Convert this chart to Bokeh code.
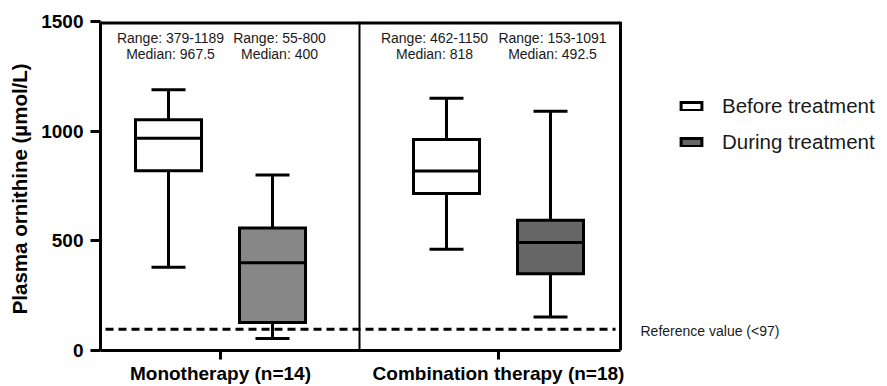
from bokeh.plotting import figure
from bokeh.models import ColumnDataSource, FixedTicker, Span, Label, Legend, LegendItem
from bokeh.core.properties import value
from bokeh.embed import file_html
from bokeh.resources import INLINE

# ---- data ----
groups = ["Monotherapy (n=14)", "Combination therapy (n=18)"]
phases = ["Before treatment", "During treatment"]
box_group = [0, 0, 1, 1]
box_phase = [0, 1, 0, 1]
mins = [379, 55, 462, 153]
q1s = [820, 128, 716, 350]
medians = [967.5, 400, 818, 492.5]
q3s = [1052, 558, 962, 594]
maxs = [1189, 800, 1150, 1091]
reference_value = 97
y_ticks = [0, 500, 1000, 1500]

# ---- layout / style ----
group_centers = [1.2, 3.98]
offset = 0.52
box_w = 0.66
cap_w = 0.34
text_shift = [0.02, 0.07, -0.12, 0.02]   # annotation text offsets from box centers
legend_index = [0, 3]                    # which box gives each legend key its look
panel_right = 5.2                        # right edge of the boxed plot area (x units)
fills = ["white", "#878787", "white", "#666666"]
FONT = "Liberation Sans"
Y_TOP = y_ticks[-1]

xs = [group_centers[g] + (offset if ph else -offset) for g, ph in zip(box_group, box_phase)]

def fmt(v):
    return f"{v:g}"

src = ColumnDataSource(dict(
    x=xs, lo=mins, q1=q1s, med=medians, q3=q3s, hi=maxs, fill=fills,
    x0=[x - box_w / 2 for x in xs], x1=[x + box_w / 2 for x in xs],
    c0=[x - cap_w / 2 for x in xs], c1=[x + cap_w / 2 for x in xs],
    tx=[x + s for x, s in zip(xs, text_shift)],
    rng=[f"Range: {fmt(a)}-{fmt(b)}" for a, b in zip(mins, maxs)],
    mdt=[f"Median: {fmt(m)}" for m in medians],
))

p = figure(width=887, height=386, x_range=(0, 7.87), y_range=(0, Y_TOP),
           output_backend="svg", toolbar_location=None,
           min_border_left=100, min_border_right=0, min_border_top=21, min_border_bottom=36)
p.grid.visible = False
p.background_fill_color = "white"
p.border_fill_color = "white"
p.outline_line_color = None

for ax in (p.xaxis[0], p.yaxis[0]):
    ax.axis_line_width = 3
    ax.axis_line_color = "black"
    ax.major_tick_line_width = 3
    ax.major_tick_in = 0
    ax.minor_tick_out = 0
    ax.minor_tick_in = 0
    ax.major_label_text_font = FONT
    ax.major_label_text_font_style = "bold"
    ax.major_label_text_color = "black"

p.yaxis.ticker = FixedTicker(ticks=y_ticks)
p.yaxis.major_tick_out = 10
p.yaxis.major_label_text_font_size = "19px"
p.yaxis.major_label_standoff = 7
p.yaxis.axis_label = "Plasma ornithine  (µmol/L)"
p.yaxis.axis_label_text_font = FONT
p.yaxis.axis_label_text_font_style = "bold"
p.yaxis.axis_label_text_font_size = "20.5px"
p.yaxis.axis_label_text_color = "black"
p.yaxis.axis_label_standoff = 7

p.xaxis.ticker = FixedTicker(ticks=group_centers)
p.xaxis.major_label_overrides = {c: g for c, g in zip(group_centers, groups)}
p.xaxis.major_tick_out = 9
p.xaxis.major_label_standoff = 3
p.xaxis.major_label_text_font_size = "19px"
p.xaxis.bounds = (0, panel_right)

# frame: top and right borders, divider between panels
p.segment(x0=[0], y0=[Y_TOP], x1=[panel_right], y1=[Y_TOP], line_color="black", line_width=6)
p.segment(x0=[panel_right], y0=[0], x1=[panel_right], y1=[Y_TOP], line_color="black", line_width=3)
p.add_layout(Span(location=sum(group_centers) / 2, dimension="height",
                  line_color="black", line_width=2))
# reference line
p.segment(x0=[0.05], y0=[reference_value], x1=[panel_right - 0.05], y1=[reference_value],
          line_color="black", line_width=3, line_dash="8 5")

# whiskers and caps
p.segment(x0="x", y0="q3", x1="x", y1="hi", source=src, line_color="black", line_width=3)
p.segment(x0="x", y0="q1", x1="x", y1="lo", source=src, line_color="black", line_width=3)
p.segment(x0="c0", y0="hi", x1="c1", y1="hi", source=src, line_color="black", line_width=3)
p.segment(x0="c0", y0="lo", x1="c1", y1="lo", source=src, line_color="black", line_width=3)
# boxes
boxes = p.vbar(x="x", width=box_w, top="q3", bottom="q1", fill_color="fill", source=src,
               line_color="black", line_width=3, line_join="miter")
p.segment(x0="x0", y0="med", x1="x1", y1="med", source=src, line_color="black", line_width=3)

# texts above boxes
p.text(x="tx", y=1427, text="rng", source=src, text_align="center", text_baseline="middle",
       text_font=value(FONT), text_font_size="14px", text_color="#1a1a1a")
p.text(x="tx", y=1353, text="mdt", source=src, text_align="center", text_baseline="middle",
       text_font=value(FONT), text_font_size="14px", text_color="#1a1a1a")

# legend
legend = Legend(items=[LegendItem(label=t, renderers=[boxes], index=i)
                       for t, i in zip(phases, legend_index)],
                location=(578, 196), padding=0, margin=0, spacing=12,
                glyph_width=26, glyph_height=10, label_standoff=18, label_height=20,
                label_text_font=FONT, label_text_font_size="20.5px", label_text_color="#1a1a1a",
                border_line_color=None, background_fill_alpha=0)
p.add_layout(legend)

p.add_layout(Label(x=5.40, y=reference_value, y_offset=-2, text="Reference value (<97)",
                   text_baseline="middle", text_font=FONT, text_font_size="14px",
                   text_color="#1a1a1a"))

open("out.html", "w").write(file_html(p, INLINE))
